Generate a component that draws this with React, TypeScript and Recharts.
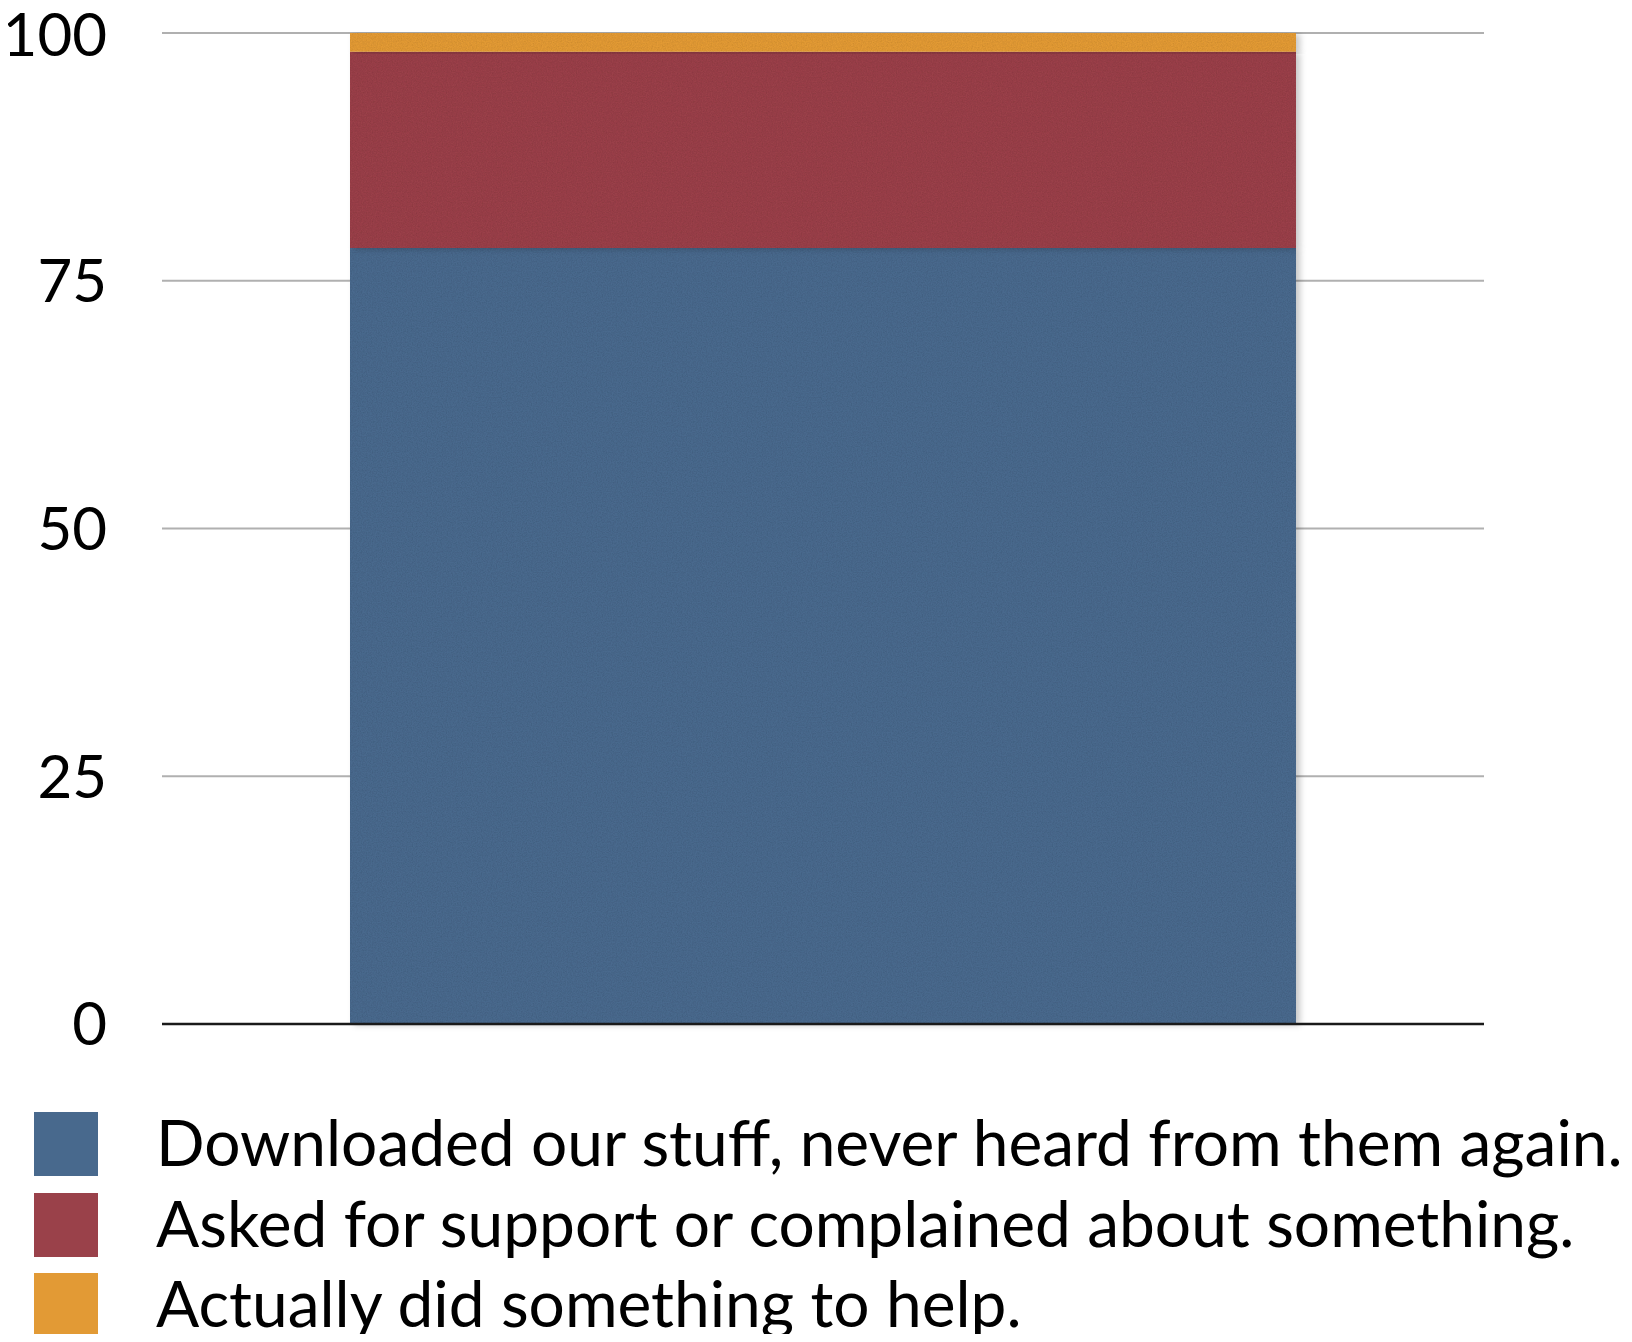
import { Bar, BarChart, CartesianGrid, ReferenceLine, XAxis, YAxis } from 'recharts';

const categories = ['Users'];
const downloaded = [78.3];
const askedSupport = [19.8];
const helped = [1.9];
const yTicks = [0, 25, 50, 75, 100];

const seriesKeys = ['downloaded', 'askedSupport', 'helped'];
const seriesLabels = [
  'Downloaded our stuff, never heard from them again.',
  'Asked for support or complained about something.',
  'Actually did something to help.',
];
const seriesColors = ['#48698d', '#9a414a', '#e29a35'];

const data = categories.map((name, i) => ({
  name,
  downloaded: downloaded[i],
  askedSupport: askedSupport[i],
  helped: helped[i],
}));

const FONT = 'Lato, "Open Sans", sans-serif';

export default function App() {
  return (
    <div style={{ position: 'relative', width: 1632, height: 1342, margin: -8, background: '#fff', overflow: 'hidden' }}>
      <BarChart
        width={1632}
        height={1342}
        data={data}
        margin={{ top: 33, right: 148, bottom: 318, left: 0 }}
        barSize={946}
      >
        <defs>
          <filter id="barTex" x="-5%" y="-5%" width="112%" height="112%">
            <feTurbulence type="fractalNoise" baseFrequency="0.8" numOctaves="2" seed="4" result="noise" />
            <feColorMatrix
              in="noise"
              type="matrix"
              values="0 0 0 0 0  0 0 0 0 0  0 0 0 0 0  0.35 0 0 0 -0.12"
              result="grain"
            />
            <feComposite in="grain" in2="SourceGraphic" operator="in" result="grainClip" />
            <feDropShadow in="SourceGraphic" dx="4" dy="1" stdDeviation="3" floodColor="#000" floodOpacity="0.22" result="shadow" />
            <feMerge>
              <feMergeNode in="shadow" />
              <feMergeNode in="grainClip" />
            </feMerge>
          </filter>
        </defs>
        <CartesianGrid vertical={false} stroke="#b0b0b0" strokeWidth={2} />
        <XAxis dataKey="name" tick={false} tickLine={false} axisLine={false} height={0} />
        <YAxis
          domain={[0, 100]}
          ticks={yTicks}
          width={162}
          axisLine={false}
          tickLine={false}
          tickSize={0}
          tickMargin={55}
          tick={{ fontSize: 60, fill: '#000', fontFamily: FONT }}
        />
        {seriesKeys.map((key, i) => (
          <Bar
            key={key}
            dataKey={key}
            stackId="a"
            fill={seriesColors[i]}
            filter="url(#barTex)"
            isAnimationActive={false}
          />
        ))}
        <ReferenceLine y={0} stroke="#1a1a1a" strokeWidth={2.5} />
      </BarChart>
      {seriesLabels.map((label, i) => (
        <div key={label}>
          <div
            style={{
              position: 'absolute',
              left: 34,
              top: 1112 + i * 80.5,
              width: 64,
              height: 64,
              background: seriesColors[i],
            }}
          />
          <div
            style={{
              position: 'absolute',
              left: 156,
              top: 1110 + i * 80.5,
              fontFamily: FONT,
              fontSize: 64,
              lineHeight: '64px',
              color: '#000',
              whiteSpace: 'nowrap',
            }}
          >
            {label}
          </div>
        </div>
      ))}
    </div>
  );
}
